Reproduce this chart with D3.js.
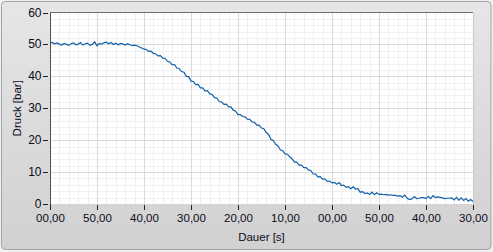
<!DOCTYPE html>
<html>
<head>
<meta charset="utf-8">
<script src="https://cdn.jsdelivr.net/npm/d3@7"></script>
<style>
  html, body { margin: 0; padding: 0; background: #f0f0f0; }
  svg { display: block; font-family: "Liberation Sans", Arial, sans-serif; }
</style>
</head>
<body>
<svg id="chart"></svg>
<script>
'use strict';

// ── Data ──────────────────────────────────────────────────
// Pressure samples every 0.5 s, from 0 s to 90 s
const sampleStep = 0.5;
const druck = [
  50.4, 50.6, 50.2, 50.5, 50.1, 49.8, 50.3, 50.0, 49.7, 50.2,
  50.5, 49.9, 50.1, 50.6, 49.8, 50.2, 50.4, 49.7, 50.0, 50.8,
  49.6, 50.3, 50.1, 50.5, 50.7, 50.2, 50.6, 50.0, 50.4, 49.9,
  50.3, 50.1, 49.8, 50.2, 49.9, 49.6, 49.8, 49.6, 49.2, 48.9,
  48.5, 48.4, 47.8, 47.9, 47.2, 47.0, 46.4, 46.5, 45.7, 45.6,
  44.7, 44.5, 43.6, 43.7, 42.6, 42.4, 41.5, 41.3, 40.0, 39.9,
  38.5, 38.4, 37.4, 37.5, 36.4, 36.4, 35.4, 35.5, 34.5, 34.3,
  33.3, 33.2, 32.1, 32.0, 31.2, 31.3, 30.4, 30.4, 29.4, 29.1,
  28.0, 28.0, 27.4, 27.3, 26.6, 26.5, 25.7, 25.6, 24.7, 24.7,
  23.8, 23.6, 22.4, 21.8, 20.3, 19.9, 18.7, 18.2, 17.0, 16.7,
  15.7, 15.6, 14.8, 14.2, 13.1, 13.1, 12.2, 12.2, 11.4, 11.4,
  10.6, 10.5,  9.4,  9.4,  8.5,  8.6,  7.8,  7.8,  7.1,  7.2,
   6.6,  6.8,  6.2,  6.7,  5.8,  5.9,  5.2,  5.4,  4.8,  5.4,
   4.7,  4.8,  3.7,  3.9,  3.3,  3.5,  3.0,  3.7,  2.9,  3.5,
   3.0,  3.1,  2.9,  3.0,  2.8,  2.9,  2.7,  2.7,  2.5,  2.6,
   2.1,  2.8,  1.8,  1.4,  1.6,  2.3,  1.7,  1.8,  2.0,  2.0,
   1.7,  2.4,  1.7,  2.6,  2.0,  2.2,  2.1,  1.9,  1.7,  1.8,
   1.8,  1.9,  1.3,  2.1,  1.2,  1.9,  1.1,  1.7,  0.9,  1.4,
   0.8
];

const xTicks      = [0, 10, 20, 30, 40, 50, 60, 70, 80, 90];
const xTickLabels = ['00,00', '50,00', '40,00', '30,00', '20,00',
                     '10,00', '00,00', '50,00', '40,00', '30,00'];
const yTicks      = [0, 10, 20, 30, 40, 50, 60];

// ── Layout ────────────────────────────────────────────────
const W = 493, H = 252;
const plot = { left: 50, right: 473, top: 12.5, bottom: 204 };

const svg = d3.select('#chart').attr('width', W).attr('height', H);

// Panel background
const defs = svg.append('defs');
const grad = defs.append('linearGradient')
  .attr('id', 'panelGrad').attr('x1', 0).attr('y1', 0).attr('x2', 0).attr('y2', 1);
grad.append('stop').attr('offset', '0%').attr('stop-color', '#e6e6e6');
grad.append('stop').attr('offset', '100%').attr('stop-color', '#d1d1d1');

svg.append('rect')
  .attr('x', 1.5).attr('y', 1.5)
  .attr('width', W - 3.5).attr('height', H - 4)
  .attr('rx', 4)
  .attr('fill', 'url(#panelGrad)')
  .attr('stroke', '#a3a3a3');

// ── Scales ────────────────────────────────────────────────
const x = d3.scaleLinear().domain([0, 90]).range([plot.left, plot.right]);
const y = d3.scaleLinear().domain([0, 60]).range([plot.bottom, plot.top]);

// Plot area
svg.append('rect')
  .attr('x', plot.left).attr('y', plot.top)
  .attr('width', plot.right - plot.left)
  .attr('height', plot.bottom - plot.top)
  .attr('fill', '#ffffff');

// Grid: minor then major
const grid = svg.append('g').attr('shape-rendering', 'crispEdges');
d3.range(2, 90, 2).filter(v => v % 10 !== 0).forEach(v => {
  grid.append('line')
    .attr('x1', Math.round(x(v)) + 0.5).attr('x2', Math.round(x(v)) + 0.5)
    .attr('y1', plot.top).attr('y2', plot.bottom)
    .attr('stroke', '#f0f0f0');
});
d3.range(2, 60, 2).filter(v => v % 10 !== 0).forEach(v => {
  grid.append('line')
    .attr('x1', plot.left).attr('x2', plot.right)
    .attr('y1', Math.round(y(v)) + 0.5).attr('y2', Math.round(y(v)) + 0.5)
    .attr('stroke', '#f0f0f0');
});
xTicks.slice(1, -1).forEach(v => {
  grid.append('line')
    .attr('x1', Math.round(x(v)) + 0.5).attr('x2', Math.round(x(v)) + 0.5)
    .attr('y1', plot.top).attr('y2', plot.bottom)
    .attr('stroke', '#dadada');
});
yTicks.slice(1, -1).forEach(v => {
  grid.append('line')
    .attr('x1', plot.left).attr('x2', plot.right)
    .attr('y1', Math.round(y(v)) + 0.5).attr('y2', Math.round(y(v)) + 0.5)
    .attr('stroke', '#dadada');
});

// Plot borders
grid.append('line')
  .attr('x1', plot.left).attr('x2', plot.right)
  .attr('y1', plot.top).attr('y2', plot.top)
  .attr('stroke', '#707070');
grid.append('line')
  .attr('x1', plot.right + 0.5).attr('x2', plot.right + 0.5)
  .attr('y1', plot.top).attr('y2', plot.bottom)
  .attr('stroke', '#c8c8c8');

// ── Data line ─────────────────────────────────────────────
const line = d3.line()
  .x((d, i) => x(i * sampleStep))
  .y(d => y(d));

svg.append('path')
  .datum(druck)
  .attr('d', line)
  .attr('fill', 'none')
  .attr('stroke', '#1261a9')
  .attr('stroke-width', 1.2);

// ── Axes ──────────────────────────────────────────────────
const textColor = '#0c0c20';

// Y axis
const yAxis = svg.append('g').attr('shape-rendering', 'crispEdges');
yAxis.append('line')
  .attr('x1', plot.left + 0.5).attr('x2', plot.left + 0.5)
  .attr('y1', plot.top).attr('y2', plot.bottom + 1)
  .attr('stroke', '#505050');
yTicks.forEach(v => {
  yAxis.append('line')
    .attr('x1', 43).attr('x2', 48)
    .attr('y1', Math.round(y(v)) + 0.5).attr('y2', Math.round(y(v)) + 0.5)
    .attr('stroke', '#202020');
  yAxis.append('text')
    .attr('x', 41.5).attr('y', y(v))
    .attr('text-anchor', 'end')
    .attr('dominant-baseline', 'central')
    .attr('font-size', 12)
    .attr('fill', textColor)
    .text(v);
});

// X axis
const xAxis = svg.append('g').attr('shape-rendering', 'crispEdges');
xTicks.forEach((v, i) => {
  xAxis.append('line')
    .attr('x1', Math.round(x(v)) + 0.5).attr('x2', Math.round(x(v)) + 0.5)
    .attr('y1', plot.bottom + 1).attr('y2', plot.bottom + 6)
    .attr('stroke', '#202020');
  xAxis.append('text')
    .attr('x', x(v) + 0.5).attr('y', 222)
    .attr('text-anchor', 'middle')
    .attr('font-size', 11.5)
    .attr('fill', textColor)
    .text(xTickLabels[i]);
});

// Axis titles
svg.append('text')
  .attr('x', (plot.left + plot.right) / 2)
  .attr('y', 241)
  .attr('text-anchor', 'middle')
  .attr('font-size', 11.5)
  .attr('fill', textColor)
  .text('Dauer [s]');

svg.append('text')
  .attr('transform', `translate(21,${(plot.top + plot.bottom) / 2}) rotate(-90)`)
  .attr('text-anchor', 'middle')
  .attr('font-size', 11.5)
  .attr('fill', textColor)
  .text('Druck [bar]');
</script>
</body>
</html>
